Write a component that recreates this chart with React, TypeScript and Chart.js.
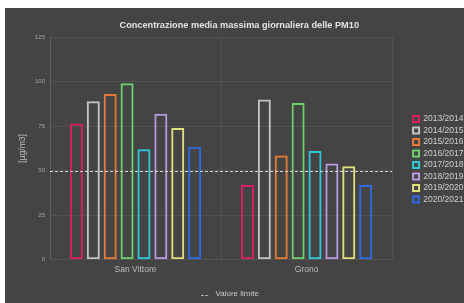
import React, { useEffect, useRef } from "react";
import { Chart, registerables } from "chart.js";

Chart.register(...registerables);

const chartTitle = "Concentrazione media massima giornaliera delle PM10";
const yAxisTitle = "[µg/m3]";
const categories = ["San Vittore", "Grono"];
const seasons = [
  "2013/2014",
  "2014/2015",
  "2015/2016",
  "2016/2017",
  "2017/2018",
  "2018/2019",
  "2019/2020",
  "2020/2021",
];
// values per season: [San Vittore, Grono]
const s2013_2014 = [76.5, 42];
const s2014_2015 = [89, 90];
const s2015_2016 = [93, 58.5];
const s2016_2017 = [99, 88];
const s2017_2018 = [62, 61];
const s2018_2019 = [82, 54];
const s2019_2020 = [74, 52.5];
const s2020_2021 = [63.5, 42];
const seasonValues = [
  s2013_2014,
  s2014_2015,
  s2015_2016,
  s2016_2017,
  s2017_2018,
  s2018_2019,
  s2019_2020,
  s2020_2021,
];
const seasonColors = [
  "#d81f65",
  "#c4c4c4",
  "#e47a36",
  "#6ed06a",
  "#2ec8d6",
  "#b79ae0",
  "#e0e07c",
  "#2f6ae0",
];
const yMin = 0;
const yMax = 125;
const yStep = 25;
const limitValue = 50;
const limitLabel = "Valore limite";

const FONT = "'Liberation Sans', Arial, sans-serif";

const limitPlugin = {
  id: "limitLine",
  afterDatasetsDraw(chart: any) {
    const { ctx, chartArea, scales } = chart;
    const y = Math.round(scales.y.getPixelForValue(limitValue)) + 0.5;
    ctx.save();
    ctx.strokeStyle = "rgba(235,235,235,0.85)";
    ctx.lineWidth = 1;
    ctx.setLineDash([3, 2]);
    ctx.beginPath();
    ctx.moveTo(chartArea.left, y);
    ctx.lineTo(chartArea.right, y);
    ctx.stroke();
    ctx.restore();
  },
  afterDraw(chart: any) {
    const { ctx } = chart;
    const textX = chart.width / 2 - 19;
    const y = chart.height - 9;
    ctx.save();
    ctx.font = `8px ${FONT}`;
    ctx.fillStyle = "#c8c8c8";
    ctx.textBaseline = "middle";
    ctx.textAlign = "left";
    ctx.fillText(limitLabel, textX, y);
    ctx.strokeStyle = "rgba(235,235,235,0.9)";
    ctx.lineWidth = 1;
    ctx.setLineDash([2, 2]);
    ctx.beginPath();
    ctx.moveTo(textX - 14, y + 1.5);
    ctx.lineTo(textX - 7, y + 1.5);
    ctx.stroke();
    ctx.restore();
  },
};

export default function App() {
  const ref = useRef<HTMLCanvasElement | null>(null);

  useEffect(() => {
    if (!ref.current) return;
    Chart.defaults.font.family = FONT;
    const gridColor = "rgba(255,255,255,0.08)";
    const chart = new Chart(ref.current, {
      type: "bar",
      data: {
        labels: categories,
        datasets: seasons.map((s, i) => ({
          label: s,
          data: seasonValues[i],
          backgroundColor: "rgba(0,0,0,0)",
          borderColor: seasonColors[i],
          borderWidth: 2,
          borderSkipped: false,
          categoryPercentage: 0.79,
          barPercentage: 0.77,
        })),
      },
      options: {
        animation: false,
        responsive: false,
        maintainAspectRatio: false,
        layout: { padding: { left: 0, right: -9.5, top: 0, bottom: 23 } },
        plugins: {
          title: {
            display: true,
            text: chartTitle,
            color: "#e2e2e2",
            font: { size: 9.2, weight: "bold", family: FONT },
            padding: { top: 12, bottom: 6 },
          },
          legend: {
            position: "right",
            align: "center",
            title: {
              display: true,
              text: "",
              font: { size: 7 },
              padding: { top: 22, bottom: 0 },
            },
            labels: {
              color: "#cfcfcf",
              boxWidth: 6,
              boxHeight: 6,
              padding: 3,
              font: { size: 8.5, family: FONT },
            },
          },
          tooltip: { enabled: false },
        },
        scales: {
          x: {
            grid: { color: gridColor, drawTicks: false, offset: true },
            border: { display: false },
            ticks: { color: "#bdbdbd", padding: 5, font: { size: 8.5, family: FONT } },
          },
          y: {
            min: yMin,
            max: yMax,
            grid: { color: gridColor, drawTicks: false },
            border: { color: gridColor },
            ticks: {
              stepSize: yStep,
              color: "#a8a8a8",
              padding: 5,
              font: { size: 6, family: FONT },
            },
            title: {
              display: true,
              text: yAxisTitle,
              color: "#bdbdbd",
              font: { size: 8.5, family: FONT },
              padding: { top: 13, bottom: 0 },
            },
            afterFit(s: any) {
              s.width = 45;
            },
          },
          gap: {
            type: "linear",
            position: "right",
            display: true,
            grid: { display: false },
            border: { display: false },
            ticks: { display: false },
            afterFit(s: any) {
              s.width = 18;
            },
          },
        },
      } as any,
      plugins: [limitPlugin],
    });
    return () => chart.destroy();
  }, []);

  return (
    <div
      style={{
        position: "absolute",
        left: 5,
        top: 8,
        width: 459,
        height: 295,
        background: "#444444",
      }}
    >
      <canvas ref={ref} width={459} height={295} style={{ display: "block" }} />
    </div>
  );
}
